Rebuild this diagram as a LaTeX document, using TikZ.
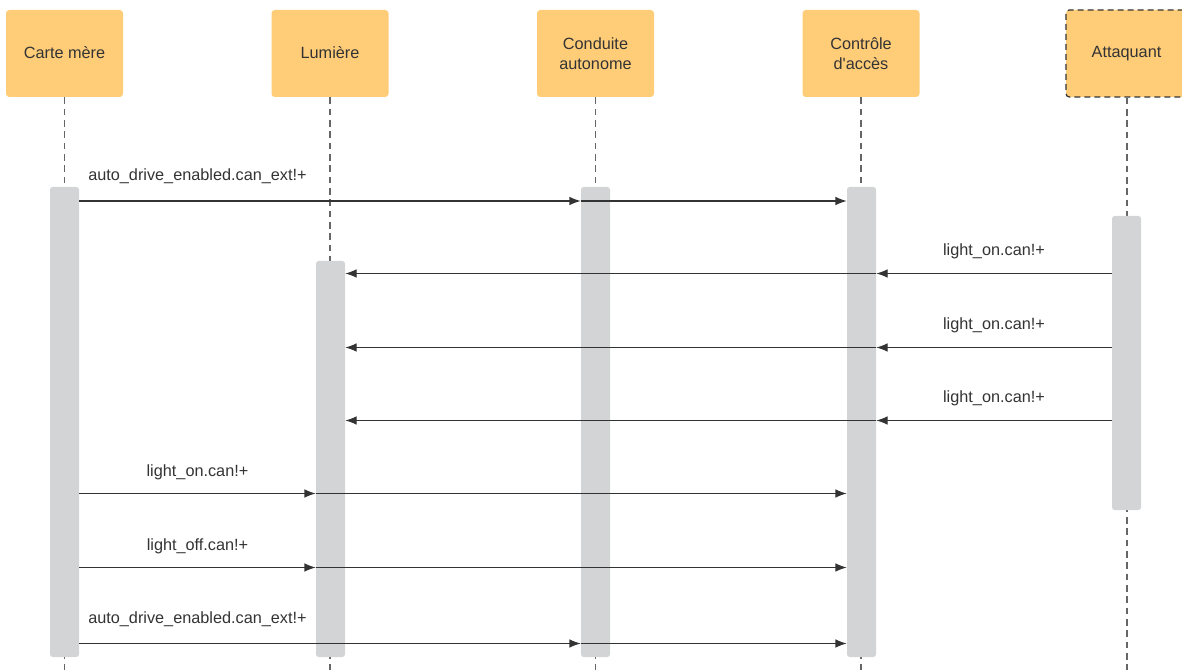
\documentclass[tikz,border=0pt]{standalone}
\usepackage{fontspec}
\setmainfont{Liberation Sans}
\usetikzlibrary{arrows.meta,fit,calc}
\definecolor{boxfill}{HTML}{FFCC78}
\definecolor{barfill}{HTML}{D3D4D6}
\definecolor{ink}{HTML}{333333}
\definecolor{lifec}{HTML}{666666}
\begin{document}
\begin{tikzpicture}[x=0.75pt,y=-0.75pt,
  every node/.style={font=\fontsize{12.2}{15}\selectfont, text=ink},
  actor/.style={fill=boxfill, draw=none, rounded corners=2.5pt, minimum width=87.75pt, minimum height=65.25pt, align=center, inner sep=0pt},
  attacker/.style={actor, minimum width=90.75pt, draw=ink, dashed, line width=0.9pt, dash pattern=on 4.5pt off 3pt},
  bar/.style={fill=barfill, draw=none, rounded corners=2pt, inner sep=0pt},
  life/.style={draw=lifec, line width=0.8pt, dash pattern=on 5pt off 3.5pt},
  msg/.style={draw=ink, line width=0.9pt, -{Latex[length=8.5pt,width=6.5pt]}},
  lbl/.style={anchor=center}
]
\useasboundingbox (0,0) rectangle (1182,670);
% actors
\node[actor] (cm) at (64.5,53.5) {\raisebox{1.5pt}{Carte mère}};
\node[actor] (lu) at (330,53.5) {\raisebox{1.5pt}{Lumière}};
\node[actor] (cd) at (595.5,53.5) {Conduite\\autonome};
\node[actor] (ac) at (861,53.5) {Contrôle\\d\textquotesingle accès};
\node[attacker] (at) at (1126.5,53.5) {\raisebox{1.5pt}{Attaquant}};
\coordinate (bot) at (0,672);
% lifelines
\foreach \n in {cm,lu,cd,ac}{
  \draw[life] (\n.south) -- (\n.south |- bot);
}
\draw[life] (at.south) ++(0.5,0) coordinate (atl) -- (atl |- bot);
% activation bars
\node[bar, fit={(50,187) (79,657)}] (cmbar) {};
\node[bar, fit={(316,261) (345,657)}] (lubar) {};
\node[bar, fit={(581,187) (610,657)}] (cdbar) {};
\node[bar, fit={(847,187) (876,657)}] (acbar) {};
\node[bar, fit={(1112,216) (1141,510)}] (atbar) {};
% message levels
\coordinate (m1) at (0,201);
\coordinate (m2) at (0,273.5);
\coordinate (m3) at (0,347.5);
\coordinate (m4) at (0,420.5);
\coordinate (m5) at (0,493.5);
\coordinate (m6) at (0,567.5);
\coordinate (m7) at (0,643.5);
% messages
\draw[msg] (cmbar.east |- m1) -- (cdbar.west |- m1);
\draw[msg] (cdbar.west |- m1) -- (acbar.west |- m1);
\node[lbl] (l1) at ($(cmbar.east |- m1)!0.5!(lubar.west |- m1) + (0,-25)$) {auto\_drive\_enabled.can\_ext!+};
\foreach \m/\k in {m2/l2,m3/l3,m4/l4}{
  \draw[msg] (atbar.west |- \m) -- (acbar.east |- \m);
  \draw[msg] (acbar.east |- \m) -- (lubar.east |- \m);
  \node[lbl] (\k) at ($(acbar.east |- \m)!0.5!(atbar.west |- \m) + (0,-22)$) {light\_on.can!+};
}
\draw[msg] (cmbar.east |- m5) -- (lubar.west |- m5);
\draw[msg] (lubar.west |- m5) -- (acbar.west |- m5);
\node[lbl] (l5) at ($(cmbar.east |- m5)!0.5!(lubar.west |- m5) + (0,-21)$) {light\_on.can!+};
\draw[msg] (cmbar.east |- m6) -- (lubar.west |- m6);
\draw[msg] (lubar.west |- m6) -- (acbar.west |- m6);
\node[lbl] (l6) at ($(cmbar.east |- m6)!0.5!(lubar.west |- m6) + (0,-21)$) {light\_off.can!+};
\draw[msg] (cmbar.east |- m7) -- (cdbar.west |- m7);
\draw[msg] (cdbar.west |- m7) -- (acbar.west |- m7);
\node[lbl] (l7) at ($(cmbar.east |- m7)!0.5!(lubar.west |- m7) + (0,-24)$) {auto\_drive\_enabled.can\_ext!+};
\end{tikzpicture}
\end{document}
